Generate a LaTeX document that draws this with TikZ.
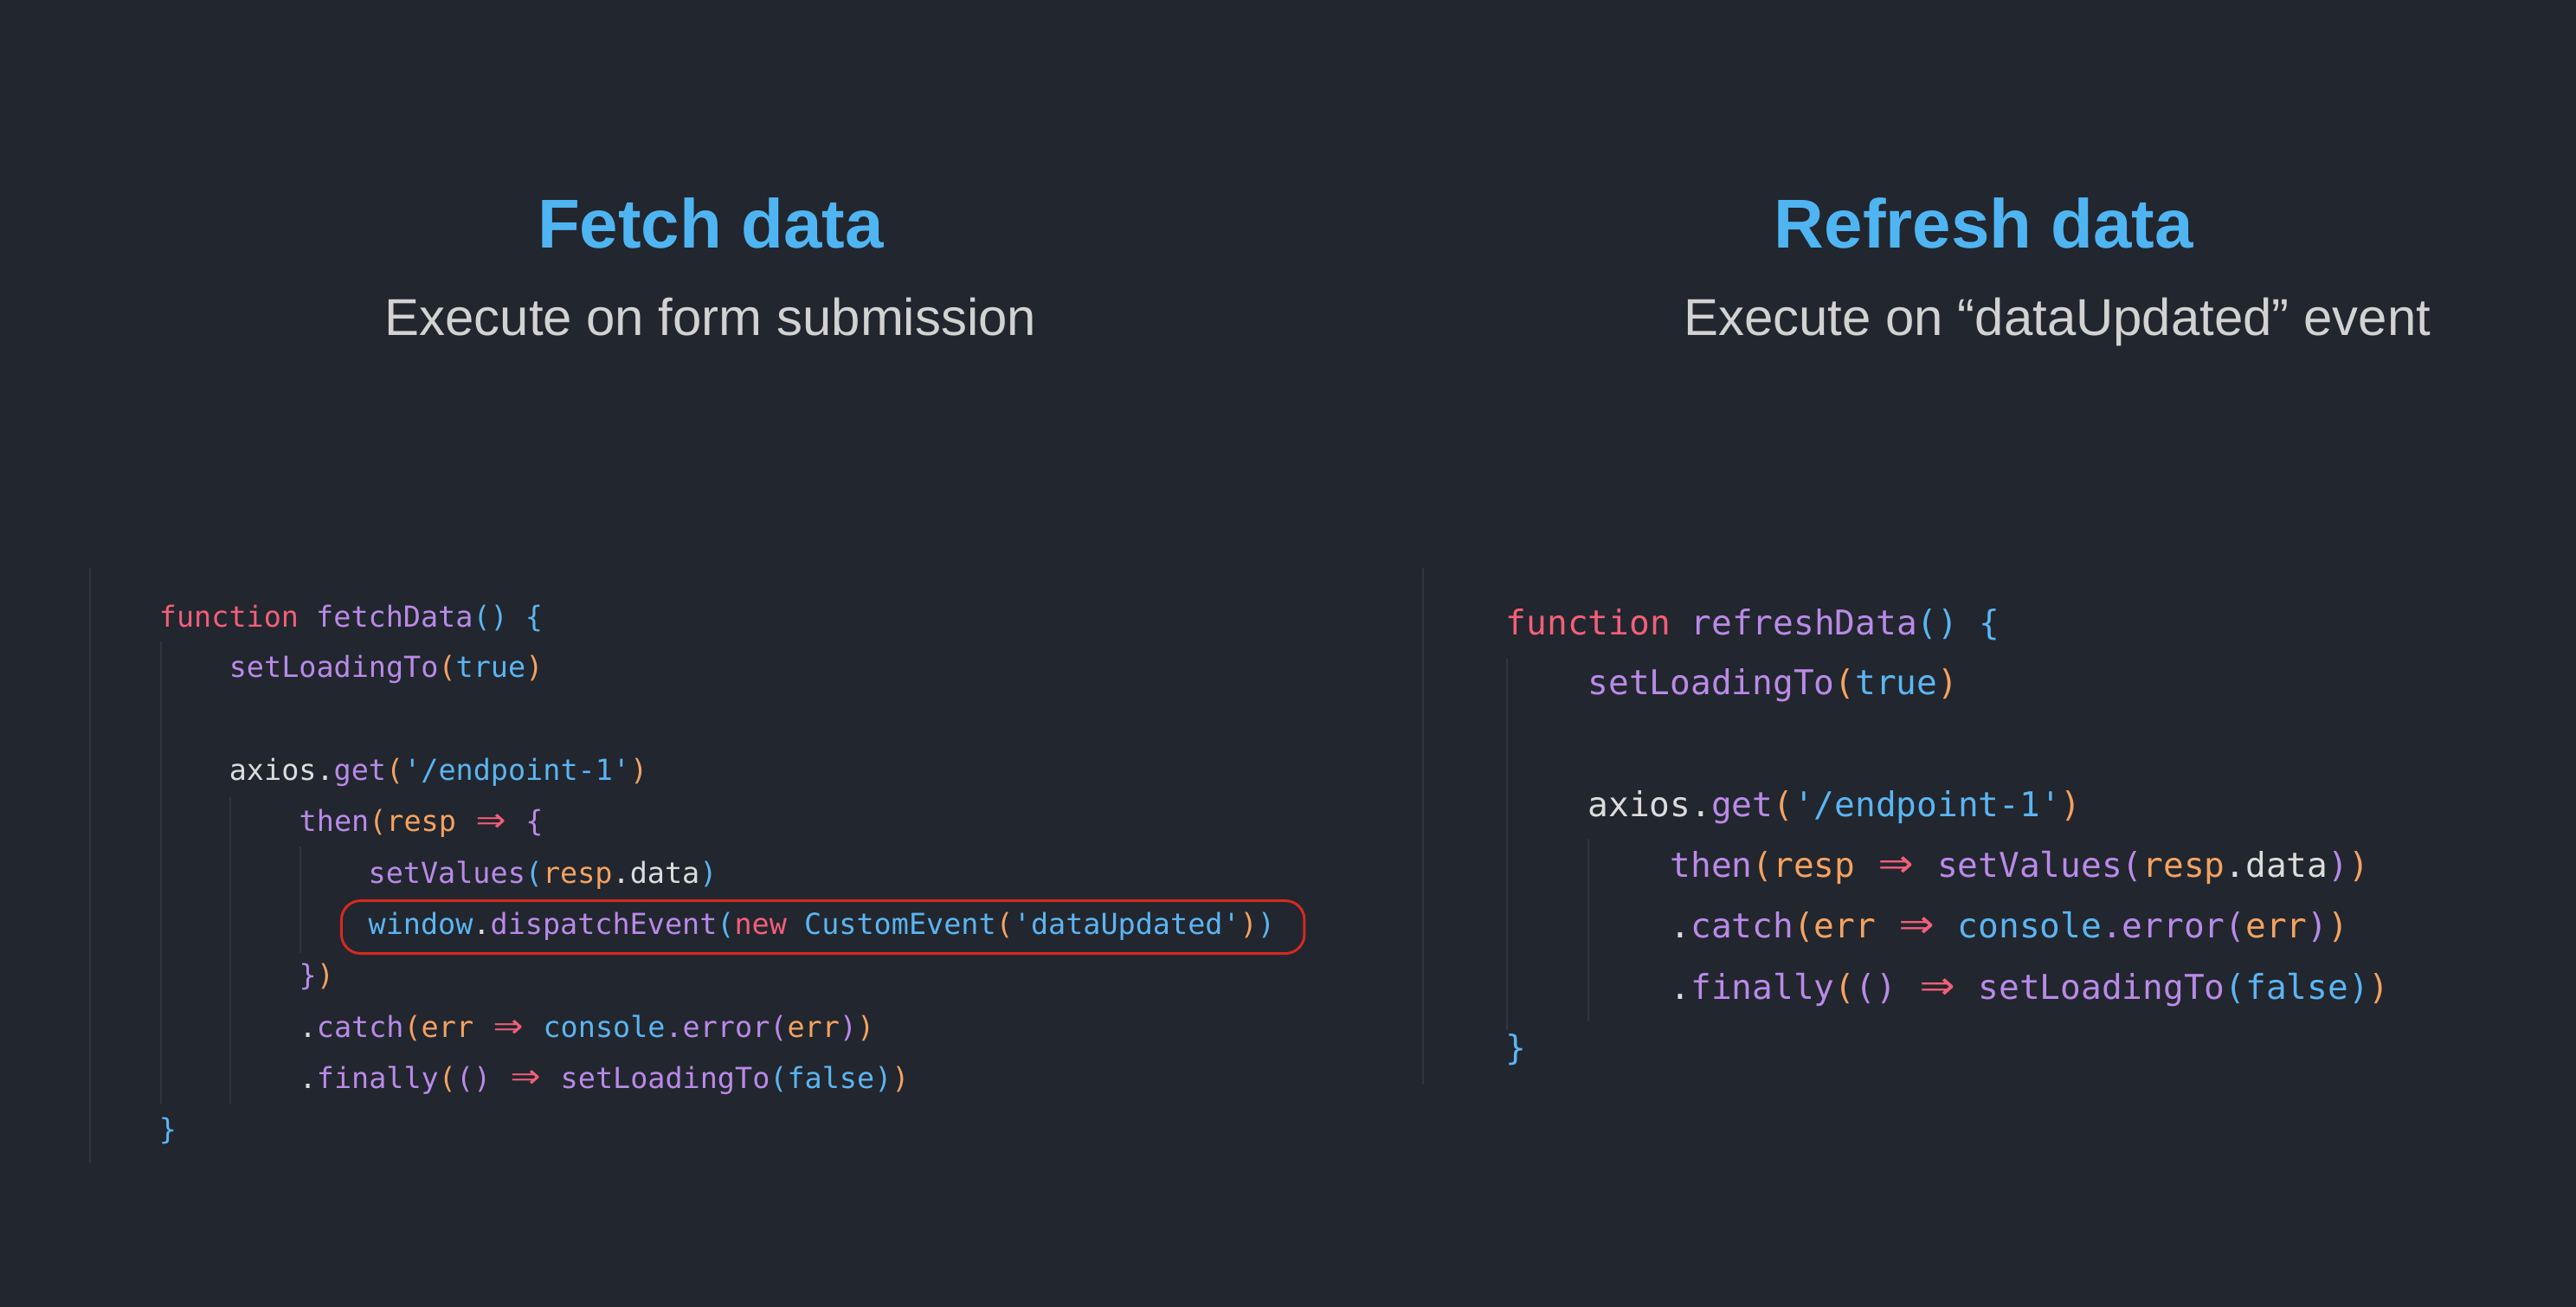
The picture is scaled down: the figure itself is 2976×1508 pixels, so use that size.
\documentclass[tikz,border=0pt]{standalone}
\usepackage{fontspec}
\setmainfont{Liberation Sans}
\setmonofont{DejaVu Sans Mono}
\definecolor{bg}{HTML}{22262E}
\definecolor{ttl}{HTML}{4FB5F2}
\definecolor{sub}{HTML}{D2D2D2}
\definecolor{ckR}{HTML}{F25F79}
\definecolor{ckP}{HTML}{B98AE8}
\definecolor{ckB}{HTML}{5BB5F2}
\definecolor{ckO}{HTML}{F4A261}
\definecolor{ckW}{HTML}{DCDCDC}
\definecolor{guide}{HTML}{30353E}
\definecolor{hl}{HTML}{D42A20}
\newcommand\kR[1]{\textcolor{ckR}{#1}}
\newcommand\kP[1]{\textcolor{ckP}{#1}}
\newcommand\kB[1]{\textcolor{ckB}{#1}}
\newcommand\kO[1]{\textcolor{ckO}{#1}}
\newcommand\kW[1]{\textcolor{ckW}{#1}}
\newcommand\kArr{\textcolor{ckR}{\makebox[1.2em]{\raisebox{-0.05em}{\scalebox{1.7}[1.5]{⇒}}}}}
\begin{document}
\begin{tikzpicture}[x=1pt,y=-1pt,
  title/.style={font=\fontsize{80}{90}\selectfont\bfseries, text=ttl, inner sep=0},
  subt/.style={font=\fontsize{60}{70}\selectfont, text=sub, inner sep=0, anchor=base},
  codeL/.style={anchor=base west, inner sep=0, font=\ttfamily\fontsize{33.5}{40}\selectfont},
  codeR/.style={anchor=base west, inner sep=0, font=\ttfamily\fontsize{39.5}{46}\selectfont},
  gl/.style={draw=guide, line width=2}]
\fill[bg] (-2,-2) rectangle (2978,1510);
\useasboundingbox (0,0) rectangle (2976,1508);
\node[title] (t1) at (820,256) {Fetch data};
\node[subt] (s1) at (820,386) {Execute on form submission};
\node[title] (t2) at (2293,256) {Refresh data};
\node[subt] (s2) at (2378,386) {Execute on “dataUpdated” event};
% guides left
\draw[gl] (102,655) -- (102,1344);
\draw[gl] (184,740) -- (184,1275);
\draw[gl] (264,920) -- (264,1275);
\draw[gl] (345,977) -- (345,1100);
% guides right
\draw[gl] (1644,655) -- (1644,1253);
\draw[gl] (1741,760) -- (1741,1190);
\draw[gl] (1835,968) -- (1835,1180);
% left code
\node[codeL] (l0) at (182,723) {\kR{function} \kP{fetchData}\kB{()} \kB{\{}};
\node[codeL] (l1) at (263,782) {\kP{setLoadingTo}\kO{(}\kB{true}\kO{)}};
\node[codeL] (l3) at (263,901) {\kW{axios.}\kP{get}\kO{(}\kB{'/endpoint-1'}\kO{)}};
\node[codeL] (l4) at (344,960) {\kP{then}\kO{(resp} \kArr{} \kP{\{}};
\node[codeL] (l5) at (424,1020) {\kP{setValues}\kB{(}\kO{resp}\kW{.data}\kB{)}};
\node[codeL] (l6) at (424,1079) {\kB{window}\kW{.}\kP{dispatchEvent}\kB{(}\kR{new} \kB{CustomEvent}\kO{(}\kB{'dataUpdated'}\kO{)}\kB{)}};
\node[codeL] (l7) at (344,1138) {\kP{\}}\kO{)}};
\node[codeL] (l8) at (344,1198) {\kW{.}\kP{catch}\kO{(err} \kArr{} \kB{console}\kP{.error(}\kO{err}\kP{)}\kO{)}};
\node[codeL] (l9) at (344,1257) {\kW{.}\kP{finally}\kO{(}\kP{()} \kArr{} \kP{setLoadingTo}\kB{(false)}\kO{)}};
\node[codeL] (l10) at (182,1316) {\kB{\}}};
\draw[hl, line width=3, rounded corners=22] (393,1040) rectangle (1507,1101);
% right code
\node[codeR] (r0) at (1740,732) {\kR{function} \kP{refreshData}\kB{()} \kB{\{}};
\node[codeR] (r1) at (1835,802) {\kP{setLoadingTo}\kO{(}\kB{true}\kO{)}};
\node[codeR] (r3) at (1835,943) {\kW{axios.}\kP{get}\kO{(}\kB{'/endpoint-1'}\kO{)}};
\node[codeR] (r4) at (1930,1013) {\kP{then}\kO{(resp} \kArr{} \kP{setValues(}\kO{resp}\kW{.data}\kP{)}\kO{)}};
\node[codeR] (r5) at (1930,1083) {\kW{.}\kP{catch}\kO{(err} \kArr{} \kB{console}\kP{.error(}\kO{err}\kP{)}\kO{)}};
\node[codeR] (r6) at (1930,1154) {\kW{.}\kP{finally}\kO{(}\kP{()} \kArr{} \kP{setLoadingTo}\kB{(false)}\kO{)}};
\node[codeR] (r7) at (1740,1224) {\kB{\}}};
\end{tikzpicture}
\end{document}
